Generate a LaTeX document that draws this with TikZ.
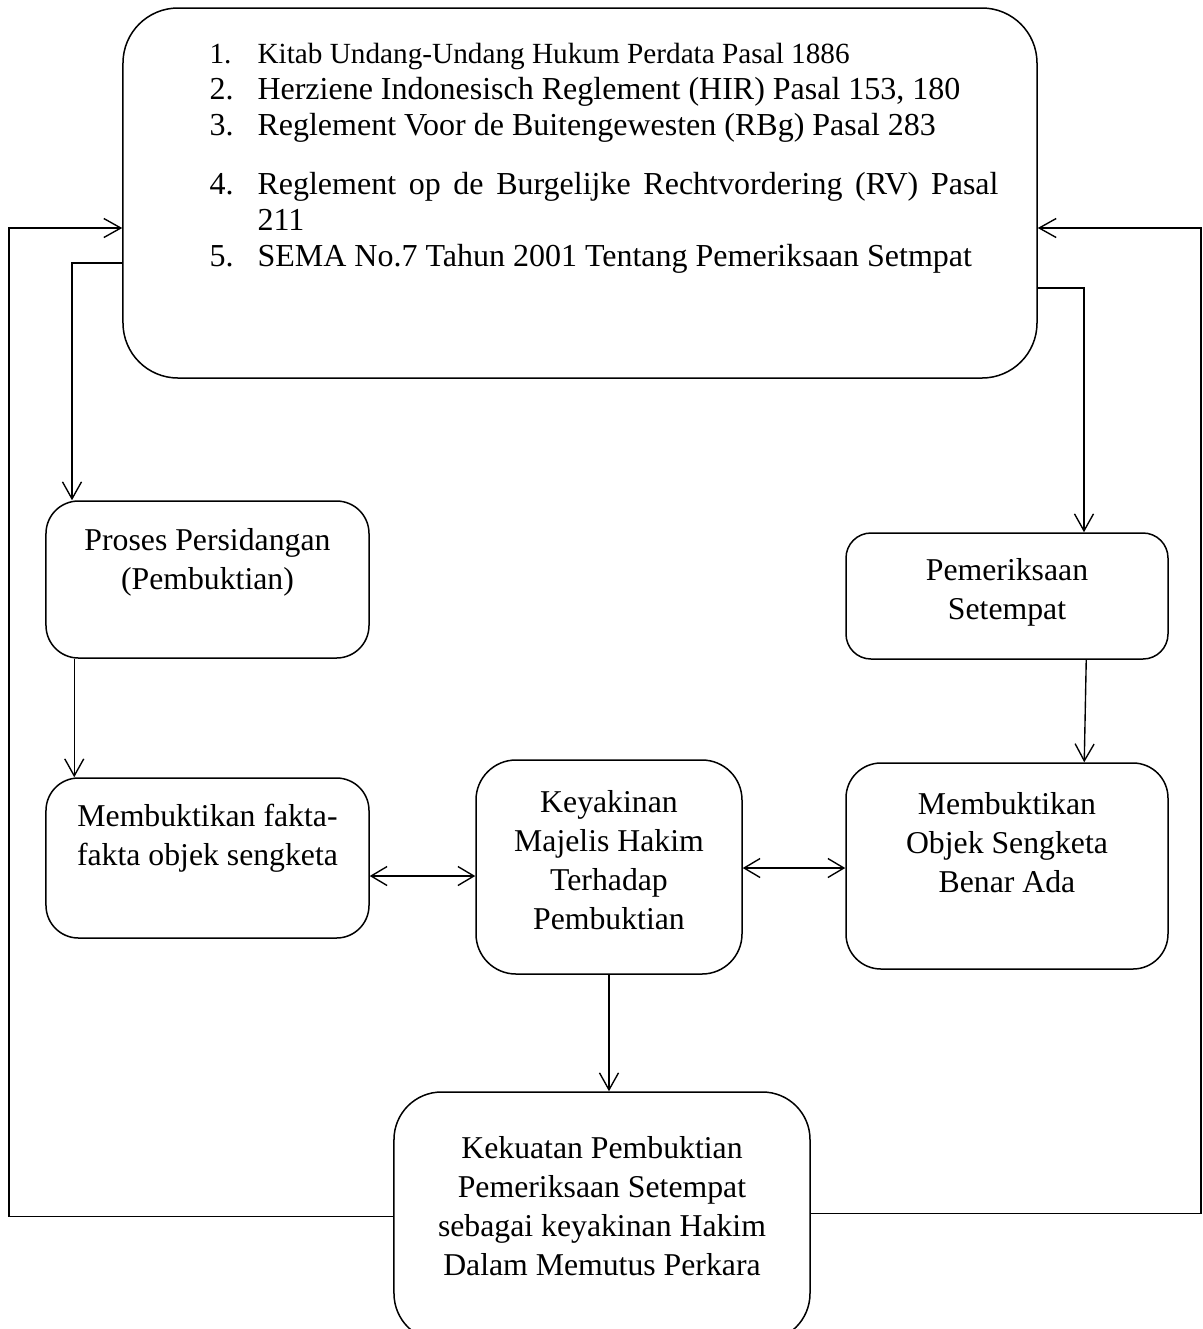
\documentclass[tikz,border=0pt]{standalone}
\usepackage{fontspec}
\setmainfont{Liberation Serif}
\usetikzlibrary{arrows.meta, calc}
\tikzset{
  stage/.style={rectangle, draw=black, line width=0.6pt, inner sep=0pt,
                font=\fontsize{12.7pt}{15.6pt}\selectfont},
  flow/.style={-{Straight Barb[length=6.8pt, width=7.6pt]}, line width=0.55pt},
  mutual/.style={{Straight Barb[length=6.4pt, width=7.6pt]}-{Straight Barb[length=6.4pt, width=7.6pt]}, line width=0.55pt},
}
\newcommand{\lifted}[2]{\raisebox{#1}[0pt][0pt]{\begin{tabular}{@{}c@{}}#2\end{tabular}}}

\begin{document}
\begin{tikzpicture}[x=0.4pt, y=-0.4pt]
  \useasboundingbox (0,0) rectangle (1203,1329);

  % --- legal basis box (top) ---
  \node[stage, rounded corners=22pt, minimum width=365.6pt, minimum height=148pt] (dasar) at (580,193) {};
  \node[anchor=base west, inner sep=0pt, font=\fontsize{12.8pt}{14.4pt}\selectfont] (pasal) at (209,63) {%
    \begin{tabular}[t]{@{}p{19.2pt}@{}l@{}}
      {\fontsize{11.7pt}{14.4pt}\selectfont 1.} & {\fontsize{11.7pt}{14.4pt}\selectfont Kitab Undang-Undang Hukum Perdata Pasal 1886}\\
      2. & Herziene Indonesisch Reglement (HIR) Pasal 153, 180\\
      3. & Reglement Voor de Buitengewesten (RBg) Pasal 283\\[9.2pt]
      4. & \makebox[296.4pt][s]{Reglement op de Burgelijke Rechtvordering (RV) Pasal}\\
         & 211\\
      5. & SEMA No.7 Tahun 2001 Tentang Pemeriksaan Setmpat
    \end{tabular}};

  % --- process boxes ---
  \node[stage, rounded corners=13pt, minimum width=129.2pt, minimum height=62.8pt] (proses) at (207.5,579.5)
    {\lifted{4pt}{Proses Persidangan\\(Pembuktian)}};
  \node[stage, rounded corners=13pt, minimum width=129.2pt, minimum height=64pt] (fakta) at (207.5,858)
    {\lifted{4.8pt}{Membuktikan fakta-\\fakta objek sengketa}};
  \node[stage, rounded corners=16pt, minimum width=106.4pt, minimum height=85.6pt] (yakin) at (609,867)
    {\lifted{-1.4pt}{Keyakinan\\Majelis Hakim\\Terhadap\\Pembuktian}};
  \node[stage, rounded corners=10pt, minimum width=128.8pt, minimum height=50.4pt] (periksa) at (1007,596)
    {\lifted{-1.6pt}{Pemeriksaan\\Setempat}};
  \node[stage, rounded corners=14pt, minimum width=128.8pt, minimum height=82.4pt] (objek) at (1007,866)
    {\lifted{5pt}{Membuktikan\\Objek Sengketa\\Benar Ada}};
  \node[stage, rounded corners=19pt, minimum width=166.4pt, minimum height=99.6pt] (kekuatan) at (602,1216.5)
    {\lifted{-0.2pt}{Kekuatan Pembuktian\\Pemeriksaan Setempat\\sebagai keyakinan Hakim\\Dalam Memutus Perkara}};

  % --- bend points ---
  \coordinate (loopL) at (9,228);
  \coordinate (loopR) at (1201,228);
  \coordinate (tapL) at (72,263);
  \coordinate (tapR) at (1084,288);

  % --- connectors ---
  \draw[flow] (kekuatan.west) -| (loopL) -- (loopL -| dasar.west);
  \draw[flow] ($(kekuatan.east)+(0,-3)$) -| (loopR) -- (loopR -| dasar.east);
  \draw[flow] (tapL -| dasar.west) -- (tapL) -- (tapL |- proses.north);
  \draw[flow] (tapR -| dasar.east) -- (tapR) -- (tapR |- periksa.north);
  \draw[flow] ($(proses.south west)+(29,0)$) -- ($(fakta.north west)+(29,0)$);
  \draw[flow] ($(periksa.south west)+(241,0)$) -- ($(objek.north west)+(239,0)$);
  \draw[flow] (yakin.south) -- (yakin.south |- kekuatan.north);
  \draw[mutual] (fakta.east |- 0,876) -- (yakin.west |- 0,876);
  \draw[mutual] (yakin.east |- 0,868) -- (objek.west |- 0,868);
\end{tikzpicture}
\end{document}
